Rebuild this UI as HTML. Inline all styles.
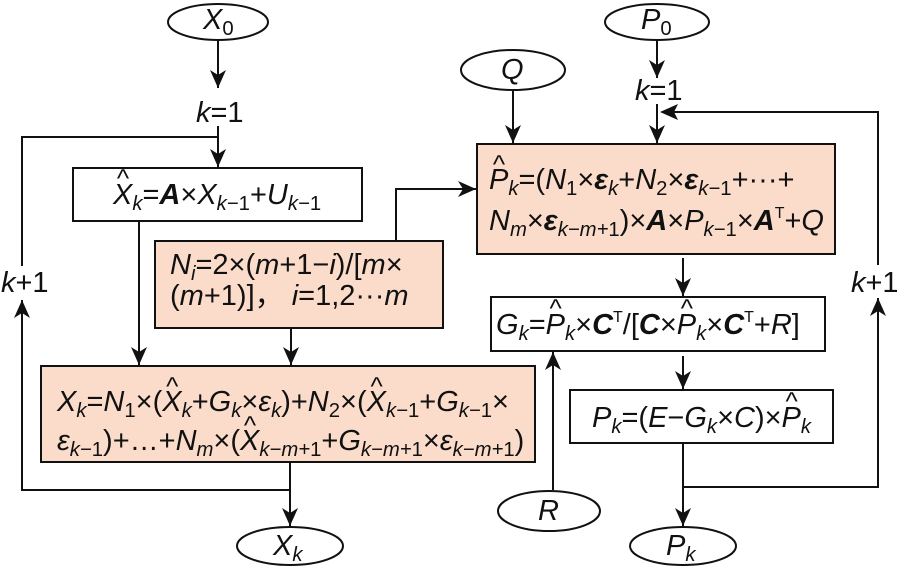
<!DOCTYPE html>
<html><head><meta charset="utf-8"><style>
body{margin:0;background:#fff;}
#c{position:relative;width:897px;height:570px;overflow:hidden;font-family:"Liberation Sans",sans-serif;color:#111;}
svg{position:absolute;left:0;top:0;}
.t{position:absolute;font-size:29px;white-space:nowrap;line-height:1;letter-spacing:0;}
i{font-style:italic;}
b{font-weight:bold;font-style:italic;}
sub{font-size:0.7em;vertical-align:-0.3em;line-height:0;}
sup{font-size:0.55em;vertical-align:0.75em;line-height:0;}
.h{position:relative;display:inline-block;}
.h::before{content:"^";position:absolute;left:0.15em;top:-0.6em;font-style:normal;font-size:0.9em;}
</style></head><body><div id="c">
<svg width="897" height="570" viewBox="0 0 897 570">
<defs><marker id="b" markerWidth="20" markerHeight="16" refX="18" refY="8" orient="auto" markerUnits="userSpaceOnUse"><path d="M0,0 L18,8 L0,16 L5,8 z" fill="#111"/></marker></defs>
<g fill="none" stroke="#111" stroke-width="2">
<ellipse cx="218" cy="22" rx="50" ry="18"/>
<ellipse cx="513" cy="70" rx="52" ry="20"/>
<ellipse cx="657" cy="22" rx="52" ry="18"/>
<ellipse cx="290" cy="546" rx="53" ry="19"/>
<ellipse cx="683" cy="546" rx="53" ry="19"/>
<ellipse cx="549" cy="511" rx="51" ry="20"/>
</g>
<rect x="73" y="168" width="289" height="53" fill="#fff" stroke="#111" stroke-width="2"/>
<rect x="155" y="241" width="288" height="87" fill="#fbdccb" stroke="#111" stroke-width="2"/>
<rect x="41" y="366" width="494" height="96" fill="#fbdccb" stroke="#111" stroke-width="2"/>
<rect x="477" y="144" width="358" height="110" fill="#fbdccb" stroke="#111" stroke-width="2"/>
<rect x="491" y="297" width="334" height="54" fill="#fff" stroke="#111" stroke-width="2"/>
<rect x="570" y="390" width="263" height="53" fill="#fff" stroke="#111" stroke-width="2"/>
<g fill="none" stroke="#111" stroke-width="2" marker-end="url(#b)">
<line x1="218" y1="40" x2="218" y2="88"/>
<line x1="218" y1="126" x2="218" y2="167"/>
<line x1="290" y1="462" x2="290" y2="526"/>
<polyline points="290,490 22,490 22,300"/>
<line x1="139" y1="221" x2="139" y2="365"/>
<line x1="291" y1="328" x2="291" y2="365"/>
<polyline points="396,241 396,189 476,189"/>
<line x1="513" y1="90" x2="513" y2="143"/>
<line x1="657" y1="40" x2="657" y2="78"/>
<line x1="657" y1="104" x2="657" y2="143"/>
<polyline points="683,487 878,487 878,298"/>
<line x1="683" y1="258" x2="683" y2="296"/>
<line x1="683" y1="356" x2="683" y2="389"/>
<line x1="683" y1="443" x2="683" y2="526"/>
<line x1="553" y1="490" x2="553" y2="352"/>
</g>
<g fill="none" stroke="#111" stroke-width="2">
<polyline points="22,266 22,137 218,137"/>
<polyline points="878,265 878,112 662,112"/>
</g>
<path d="M660,112 L678,104 L674,112 L678,120 z" fill="#111"/>
</svg>
<div class="t" style="left:203px;top:6px"><i>X</i><sub>0</sub></div>
<div class="t" style="left:641px;top:6px"><i>P</i><sub>0</sub></div>
<div class="t" style="left:501px;top:56px"><i>Q</i></div>
<div class="t" style="left:538px;top:497px"><i>R</i></div>
<div class="t" style="left:273px;top:532px"><i>X<sub>k</sub></i></div>
<div class="t" style="left:666px;top:532px"><i>P<sub>k</sub></i></div>
<div class="t" style="left:196px;top:99px"><i>k</i>=1</div>
<div class="t" style="left:635px;top:77px"><i>k</i>=1</div>
<div class="t" style="left:1px;top:269px"><i>k</i>+1</div>
<div class="t" style="left:851px;top:269px"><i>k</i>+1</div>
<div class="t" style="left:113px;top:181px"><i><span class="h">X</span><sub>k</sub></i>=<b>A</b>×<i>X<sub>k</sub></i><sub><i>−</i>1</sub>+<i>U<sub>k−</sub></i><sub>1</sub></div>
<div class="t" style="left:170px;top:250px;line-height:31px"><i>N<sub>i</sub></i>=2×(<i>m</i>+1−<i>i</i>)/[<i>m</i>×<br>(<i>m</i>+1)]，&nbsp;<i>i</i>=1,2···<i>m</i></div>
<div class="t" style="left:57px;top:383px;line-height:39px"><i>X<sub>k</sub></i>=<i>N</i><sub>1</sub>×(<i><span class="h">X</span><sub>k</sub></i>+<i>G<sub>k</sub></i>×<i>ε<sub>k</sub></i>)+<i>N</i><sub>2</sub>×(<i><span class="h">X</span><sub>k−</sub></i><sub>1</sub>+<i>G<sub>k−</sub></i><sub>1</sub>×<br><i>ε<sub>k−</sub></i><sub>1</sub>)+…+<i>N<sub>m</sub></i>×(<i><span class="h">X</span><sub>k−m+</sub></i><sub>1</sub>+<i>G<sub>k−m+</sub></i><sub>1</sub>×<i>ε<sub>k−m+</sub></i><sub>1</sub>)</div>
<div class="t" style="left:489px;top:160px;line-height:41px"><i><span class="h">P</span><sub>k</sub></i>=(<i>N</i><sub>1</sub>×<b>ε</b><sub><i>k</i></sub>+<i>N</i><sub>2</sub>×<b>ε</b><sub><i>k−</i>1</sub>+···+<br><i>N<sub>m</sub></i>×<b>ε</b><sub><i>k−m+</i>1</sub>)×<b>A</b>×<i>P<sub>k−</sub></i><sub>1</sub>×<b>A</b><sup>T</sup>+<i>Q</i></div>
<div class="t" style="left:496px;top:311px"><i>G<sub>k</sub></i>=<i><span class="h">P</span><sub>k</sub></i>×<b>C</b><sup>T</sup>/[<b>C</b>×<i><span class="h">P</span><sub>k</sub></i>×<b>C</b><sup>T</sup>+<i>R</i>]</div>
<div class="t" style="left:592px;top:404px"><i>P<sub>k</sub></i>=(<i>E</i>−<i>G<sub>k</sub></i>×<i>C</i>)×<i><span class="h">P</span><sub>k</sub></i></div>
</div></body></html>
